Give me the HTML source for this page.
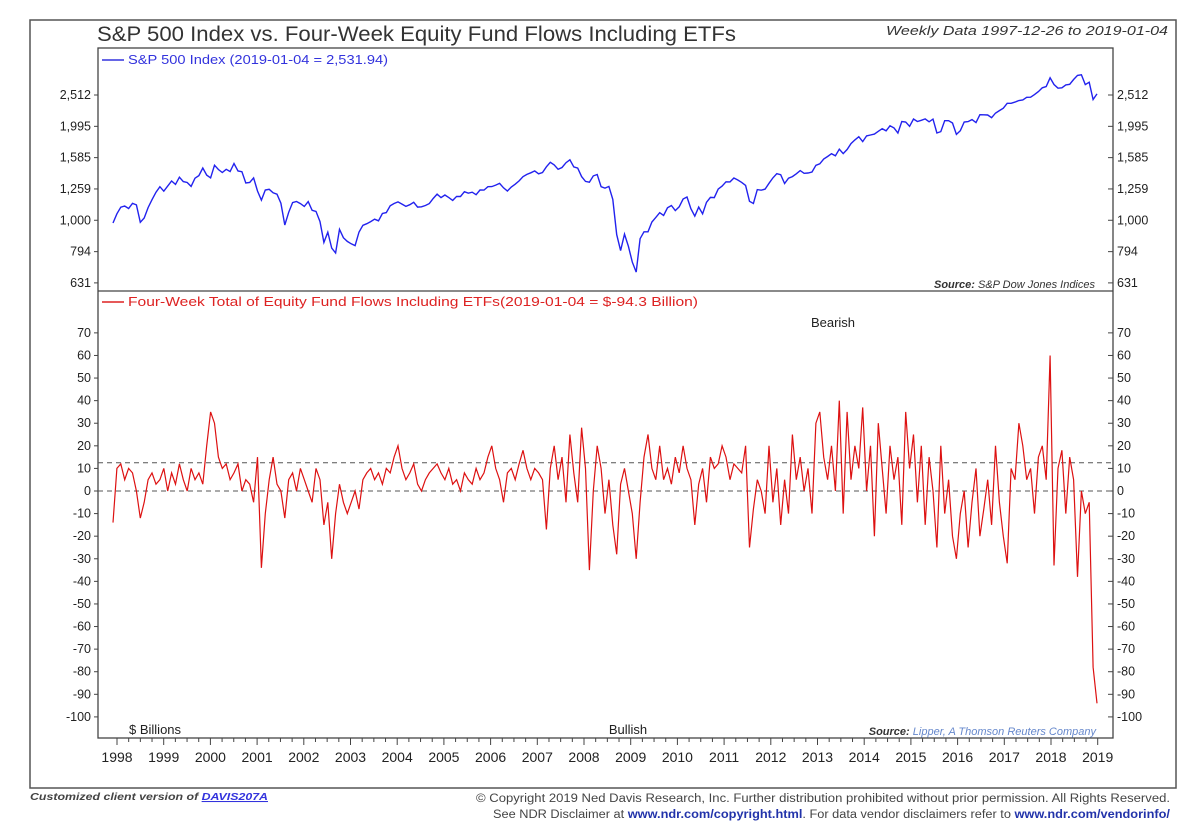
<!DOCTYPE html>
<html><head><meta charset="utf-8"><style>
body{margin:0;background:#fff;width:1200px;height:834px;overflow:hidden;font-family:"Liberation Sans",sans-serif}
</style></head><body>
<svg id="c" width="1200" height="834" viewBox="0 0 1200 834" xmlns="http://www.w3.org/2000/svg" font-family="Liberation Sans, sans-serif">
<rect x="30" y="20" width="1146" height="768" fill="none" stroke="#555" stroke-width="1.5"/>
<text x="97" y="41" font-size="21" textLength="639" lengthAdjust="spacingAndGlyphs" fill="#333">S&amp;P 500 Index vs. Four-Week Equity Fund Flows Including ETFs</text>
<text x="1168" y="35" font-size="13" font-style="italic" text-anchor="end" textLength="282" lengthAdjust="spacingAndGlyphs" fill="#333">Weekly Data 1997-12-26 to 2019-01-04</text>
<rect x="98" y="48" width="1015" height="690" fill="none" stroke="#444" stroke-width="1.3"/>
<line x1="98" y1="291" x2="1113" y2="291" stroke="#444" stroke-width="1.3"/>
<line x1="102" y1="60" x2="124" y2="60" stroke="#3333dd" stroke-width="1.5"/>
<text x="128" y="64" font-size="13" textLength="260" lengthAdjust="spacingAndGlyphs" fill="#3333dd">S&amp;P 500 Index (2019-01-04 = 2,531.94)</text>
<line x1="102" y1="302" x2="124" y2="302" stroke="#dd2222" stroke-width="1.5"/>
<text x="128" y="306" font-size="13" textLength="570" lengthAdjust="spacingAndGlyphs" fill="#dd2222">Four-Week Total of Equity Fund Flows Including ETFs(2019-01-04 = $-94.3 Billion)</text>
<text x="833" y="327" font-size="13" text-anchor="middle" fill="#222">Bearish</text>
<text x="628" y="734" font-size="13" text-anchor="middle" fill="#222">Bullish</text>
<text x="129" y="734" font-size="13" fill="#222">$ Billions</text>
<text x="1095" y="288" font-size="11" font-style="italic" text-anchor="end" fill="#333"><tspan font-weight="bold">Source:</tspan>   S&amp;P Dow Jones Indices</text>
<text x="1096" y="735" font-size="11" font-style="italic" text-anchor="end" fill="#6688cc"><tspan font-weight="bold" fill="#333">Source:</tspan>   Lipper, A Thomson Reuters Company</text>
<text x="30" y="800" font-size="10.5" font-style="italic" font-weight="bold" textLength="238" lengthAdjust="spacingAndGlyphs" fill="#444">Customized client version of <tspan fill="#3333dd" text-decoration="underline">DAVIS207A</tspan></text>
<text x="1170" y="802" font-size="11.5" text-anchor="end" textLength="694" lengthAdjust="spacingAndGlyphs" fill="#444">© Copyright 2019 Ned Davis Research, Inc. Further distribution prohibited without prior permission. All Rights Reserved.</text>
<text x="1170" y="818" font-size="11.5" text-anchor="end" textLength="677" lengthAdjust="spacingAndGlyphs" fill="#444">See NDR Disclaimer at <tspan fill="#2233aa" font-weight="bold">www.ndr.com/copyright.html</tspan>. For data vendor disclaimers refer to <tspan fill="#2233aa" font-weight="bold">www.ndr.com/vendorinfo/</tspan></text>
<g id="marks"></g>
</svg>
<script>
const spTicks=[631,794,1000,1259,1585,1995,2512];
const spTickLabels=["631","794","1,000","1,259","1,585","1,995","2,512"];
const flowTicks=[70,60,50,40,30,20,10,0,-10,-20,-30,-40,-50,-60,-70,-80,-90,-100];
const yearLabels=["1998","1999","2000","2001","2002","2003","2004","2005","2006","2007","2008","2009","2010","2011","2012","2013","2014","2015","2016","2017","2018","2019"];
const refLines=[12.5,0];
const sp500=[980,1049,1101,1111,1090,1133,1120,985,1017,1098,1163,1229,
1280,1238,1286,1335,1302,1373,1329,1320,1283,1362,1389,1469,
1394,1366,1499,1452,1421,1455,1431,1518,1437,1429,1315,1320,
1366,1240,1160,1249,1256,1224,1211,1134,966,1060,1139,1148,
1130,1107,1147,1076,1067,990,850,916,815,786,936,880,
856,841,830,917,964,975,990,1008,996,1051,1058,1112,
1131,1145,1126,1107,1121,1141,1102,1104,1115,1130,1174,1212,
1181,1204,1181,1157,1192,1191,1234,1220,1229,1207,1249,1248,
1280,1281,1295,1311,1270,1240,1277,1304,1336,1378,1401,1418,
1438,1407,1421,1482,1531,1503,1455,1474,1527,1560,1481,1468,
1379,1331,1323,1386,1400,1280,1267,1283,1166,900,800,903,
826,735,683,873,919,919,987,1021,1057,1036,1096,1115,
1074,1104,1169,1187,1089,1031,1102,1049,1141,1183,1181,1258,
1286,1327,1326,1364,1345,1321,1292,1150,1131,1253,1247,1258,
1312,1366,1408,1398,1310,1362,1379,1407,1441,1412,1416,1426,
1498,1515,1569,1598,1631,1606,1686,1633,1682,1757,1806,1848,
1783,1859,1872,1884,1924,1960,1931,2003,1972,1900,2068,2059,
1995,2105,2068,2086,2107,2063,2104,1900,1920,2079,2080,2044,
1880,1932,2060,2065,2097,2050,2174,2171,2168,2126,2199,2239,
2279,2364,2363,2384,2412,2423,2470,2472,2519,2575,2648,2674,
2850,2714,2641,2648,2705,2718,2816,2902,2914,2712,2760,2430,2532];
const flows=[-14,10,12,5,10,8,0,-12,-5,5,8,3,
5,10,0,8,3,12,5,0,10,5,8,3,
20,35,30,15,10,12,5,8,12,0,5,3,
-5,15,-34,-10,5,15,3,0,-12,5,8,0,
10,5,0,-5,10,5,-15,-5,-30,-10,3,-5,
-10,-5,0,-8,5,8,10,5,8,3,10,8,
15,20,10,5,8,12,3,0,5,8,10,12,
8,5,10,3,5,0,8,5,3,10,5,8,
15,20,10,5,-5,8,10,5,12,18,10,5,
10,8,5,-17,10,20,5,15,-5,25,8,-5,
28,10,-35,0,20,10,-10,5,-15,-28,3,10,
0,-10,-30,-5,15,25,10,5,20,5,10,3,
15,8,20,10,5,-15,3,10,-5,15,10,12,
20,15,5,12,10,8,20,-25,-8,5,0,-10,
20,-5,10,-15,5,-10,25,5,15,0,10,-10,
30,35,15,5,20,0,40,-10,35,5,20,10,
37,0,20,-20,30,10,-10,20,5,15,-15,35,
10,25,-5,20,-15,15,0,-25,20,-10,5,-20,
-30,-10,0,-25,-5,10,-20,-8,5,-15,20,-5,
-20,-32,10,5,30,20,5,10,-10,15,20,5,
60,-33,10,18,-10,15,5,-38,0,-10,-5,-78,-94];
const NS="http://www.w3.org/2000/svg";
const g=document.getElementById('marks');
const X0=113,X1=1097;
function xIdx(i,n){return X0+(X1-X0)*i/(n-1);}
function xYear(y){return 117+(y-1998)*46.7;}
function ySp(v){return 95+136*Math.log(2512/v);}
function yFl(v){return 491-2.259*v;}
function el(t,a){const e=document.createElementNS(NS,t);for(const k in a)e.setAttribute(k,a[k]);g.appendChild(e);return e;}
spTicks.forEach((v,i)=>{const y=ySp(v);
 let t=el('line',{x1:94,x2:98,y1:y,y2:y,stroke:'#444'});
 t=el('line',{x1:1108,x2:1113,y1:y,y2:y,stroke:'#444'});
 let l=el('text',{x:91,y:y+4,'font-size':12.5,'text-anchor':'end',fill:'#222'});l.textContent=spTickLabels[i];
 
 l=el('text',{x:1117,y:y+4,'font-size':12.5,fill:'#222'});l.textContent=spTickLabels[i];
 });
flowTicks.forEach(v=>{const y=yFl(v);
 let t=el('line',{x1:94,x2:98,y1:y,y2:y,stroke:'#444'});
 t=el('line',{x1:1108,x2:1113,y1:y,y2:y,stroke:'#444'});
 let l=el('text',{x:91,y:y+4,'font-size':12.5,'text-anchor':'end',fill:'#222'});l.textContent=v;
 
 l=el('text',{x:1117,y:y+4,'font-size':12.5,fill:'#222'});l.textContent=v;
 });
yearLabels.forEach((s,i)=>{const yr=+s;const x=xYear(yr);
 for(let q=0;q<4;q++){if(yr===2019&&q>0)break;const xx=x+q*46.7/4;
  const t=el('line',{x1:xx,x2:xx,y1:738,y2:q?742:745,stroke:'#444'});}
 const l=el('text',{x:x,y:762,'font-size':14,'text-anchor':'middle',fill:'#222'});l.textContent=s;
 });
refLines.forEach(v=>{const y=yFl(v);const r=el('line',{x1:98,x2:1113,y1:y,y2:y,stroke:'#555','stroke-dasharray':'5,4'});
 });
const sp=el('polyline',{fill:'none',stroke:'#2222ee','stroke-width':1.4,points:sp500.map((v,i)=>xIdx(i,sp500.length).toFixed(1)+','+ySp(v).toFixed(1)).join(' ')});

const fl=el('polyline',{fill:'none',stroke:'#dd1111','stroke-width':1.2,points:flows.map((v,i)=>xIdx(i,flows.length).toFixed(1)+','+yFl(v).toFixed(1)).join(' ')});

</script>
</body></html>
